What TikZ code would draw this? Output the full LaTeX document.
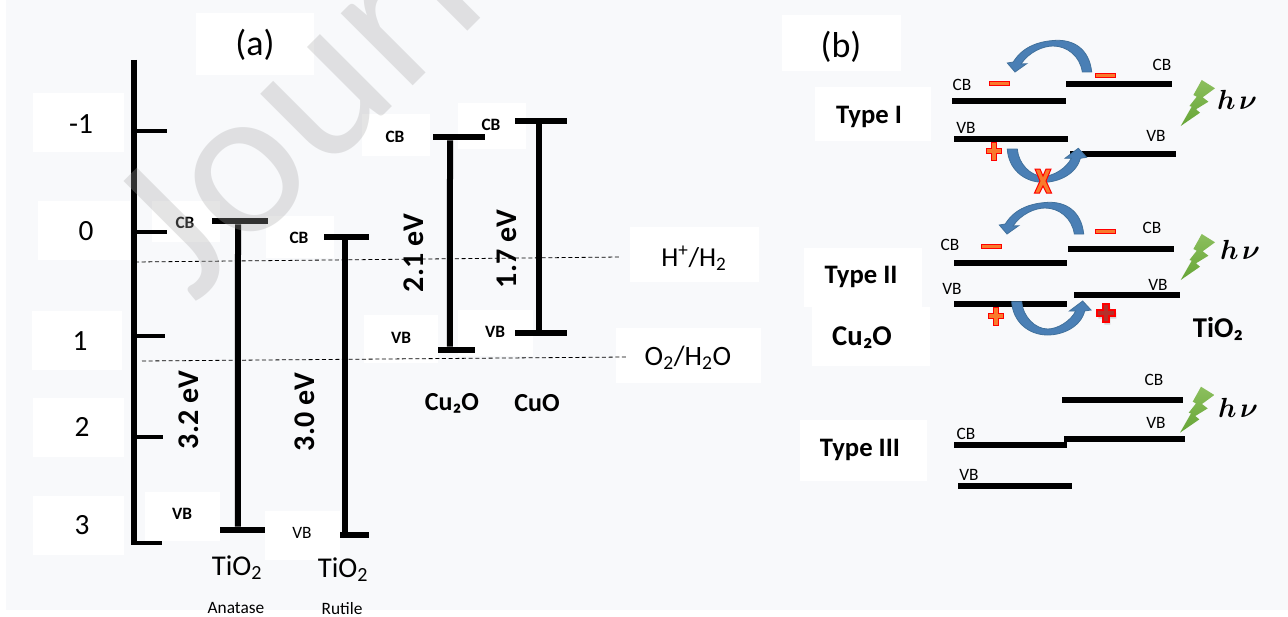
\documentclass[tikz,border=0pt]{standalone}
\usepackage{amsmath, amssymb}
\usepackage{fontspec}
\setmainfont{Carlito}
\usetikzlibrary{positioning, calc, shadows}
\definecolor{PageBg}{HTML}{F8F9FB}
\definecolor{Swoop}{HTML}{4A7FB5}
\definecolor{SwoopEdge}{HTML}{41719C}
\definecolor{BoltTop}{HTML}{8CBF5E}
\definecolor{BoltLow}{HTML}{66A536}
\definecolor{SignFill}{HTML}{F97A2C}
\definecolor{BigPlus}{HTML}{B5302A}
\newcommand{\px}{0.75pt}
\newcommand{\fs}[1]{\fontsize{#1}{#1}\selectfont}
\tikzset{
    levelbar/.style={rectangle, fill=black, inner sep=0pt, minimum height=6*\px},
    gapline/.style={line width=4.5pt, color=black},
    tickline/.style={line width=3pt, color=black},
    redoxline/.style={densely dashed, line width=0.6pt, color=black},
    numlabel/.style={font=\fs{22}},
    bandbold/.style={font=\fs{13}\bfseries},
    bandthin/.style={font=\fs{13}},
    gaplabel/.style={font=\fs{22.5}\bfseries, rotate=90},
    matlabel/.style={font=\fs{19.5}\bfseries},
    typelabel/.style={font=\fs{20}\bfseries},
    minussign/.style={rectangle, fill=SignFill, draw=red, line width=0.6pt, inner sep=0pt, minimum width=20*\px, minimum height=4*\px},
    plussign/.pic={\path[fill=SignFill, draw=red, line width=0.75pt] (-2.5,-9) -- (2.5,-9) -- (2.5,-2.5) -- (7.5,-2.5) -- (7.5,2.5) -- (2.5,2.5) -- (2.5,9) -- (-2.5,9) -- (-2.5,2.5) -- (-7.5,2.5) -- (-7.5,-2.5) -- (-2.5,-2.5) -- cycle;},
    upswoop/.pic={\path[fill=Swoop, draw=SwoopEdge, line width=0.6pt] (76.7,0) .. controls (74,-24) and (58,-32) .. (41.7,-31.7) .. controls (25,-31) and (8,-26) .. (-1.7,-10) -- (-7.7,-9) -- (0,0) -- (11.7,-8.3) -- (6,-8) .. controls (14,-20) and (28,-26) .. (38,-26) .. controls (52,-26) and (65,-16) .. (67.3,0) -- cycle;},
    downswoop/.pic={\path[fill=Swoop, draw=SwoopEdge, line width=0.6pt] (-71,0.7) .. controls (-70,20) and (-55,34) .. (-35,34) .. controls (-20,34) and (-2,26) .. (2,10) -- (8.3,9) -- (0,0) -- (-13.3,10) -- (-7,10) .. controls (-12,20) and (-25,28) .. (-35,28) .. controls (-48,28) and (-60,15) .. (-61,0.7) -- cycle;},
    lightbolt/.pic={\path[top color=BoltTop, bottom color=BoltLow] (21,-46) -- (34.3,-37.7) -- (22,-28.7) -- (27.7,-24.3) -- (15.3,-16.7) -- (19.3,-13.3) -- (0,0) -- (11,-19.3) -- (8.7,-20) -- (16,-29.3) -- (12.7,-31) -- cycle;},
}

\begin{document}
\begin{tikzpicture}[x=\px, y=-\px]
    \useasboundingbox (0,0) rectangle (1288,617);
    \fill[PageBg] (6,0) rectangle (1288,610);

    % Fondi bianchi delle etichette
    \foreach \xa/\ya/\xb/\yb in {33/93/124/152, 38/201/130/260, 32/311/122/370, 33/398/124/457, 33/496/124/555,
        196/13/314/75, 152/201/220/242, 266/216/334/258, 145/492/220/541, 265/511/340/560,
        362/114/430/156, 458/103/526/149, 364/315/438/363, 458/310/533/356,
        630/227/759/282, 616/328/761/383,
        782/15/901/71, 815/87/931/141, 804/248/922/307, 812/307/930/366, 800/420/927/481}
        \fill[white] (\xa,\ya) rectangle (\xb,\yb);

    % Asse
    \draw[gapline] (133.5,60) -- (133.5,545);
    \foreach \yt/\xe in {131/167, 232/167, 336/165, 437/163, 543/162}
        \draw[tickline] (131,\yt) -- (\xe,\yt);
    \node[numlabel] (lblm) at (81,124) {-1};
    \node[numlabel] (lblz) at (86,231) {0};
    \node[numlabel] (lblo) at (80,341) {1};
    \node[numlabel] (lblt) at (82,427) {2};
    \node[numlabel] (lbls) at (82,525) {3};
    \node[font=\fs{27}] (parta) at (255,45) {(a)};

    % Livelli redox
    \coordinate (hleft) at (135,262);
    \coordinate (hright) at (620,257);
    \coordinate (oleft) at (142,361);
    \coordinate (oright) at (627,357);
    \draw[redoxline] (hleft) -- (hright);
    \draw[redoxline] (oleft) -- (oright);
    \node[font=\fs{20.5}] (hlabel) at (694,258) {H\textsuperscript{+}/H\textsubscript{2}};
    \node[font=\fs{21}] (olabel) at (688,358) {O\textsubscript{2}/H\textsubscript{2}O};

    % Anatasio
    \node[levelbar, minimum width=56*\px] (anaCB) at (240,221) {};
    \node[levelbar, minimum width=45*\px] (anaVB) at (242.5,530) {};
    \draw[gapline] ([xshift=-1.5pt]anaCB.south) -- ([xshift=-3.4pt]anaVB.north);
    \node[bandbold] (anaCBt) at (185,223) {CB};
    \node[bandbold] (anaVBt) at (182,514) {VB};
    \node[gaplabel] (anaGap) at (189,410) {3.2 eV};
    \node[font=\fs{21.5}] (anaName) at (237,568) {TiO\textsubscript{2}};
    \node[font=\fs{13}] (anaSub) at (236,608) {Anatase};

    % Rutilo
    \node[levelbar, minimum width=45*\px] (rutCB) at (346.5,237) {};
    \node[levelbar, minimum width=29*\px] (rutVB) at (354.5,535) {};
    \draw[gapline] ([xshift=-1.1pt]rutCB.south) -- ([xshift=-7.1pt]rutVB.north);
    \node[bandbold] (rutCBt) at (299,238) {CB};
    \node[bandthin] (rutVBt) at (302,533) {VB};
    \node[gaplabel] (rutGap) at (305,412) {3.0 eV};
    \node[font=\fs{21.5}] (rutName) at (343,570) {TiO\textsubscript{2}};
    \node[font=\fs{13}] (rutSub) at (342,609) {Rutile};

    % Cu2O e CuO
    \node[levelbar, minimum width=52*\px] (cuaCB) at (459,137) {};
    \node[levelbar, minimum width=37*\px] (cuaVB) at (456.5,350) {};
    \draw[gapline] ([xshift=-6.75pt]cuaCB.south) -- ([xshift=-4.9pt]cuaVB.north);
    \node[bandbold] (cuaCBt) at (395,137) {CB};
    \node[bandbold] (cuaVBt) at (401,338) {VB};
    \node[gaplabel] (cuaGap) at (414,253) {2.1 eV};
    \node[matlabel] (cuaName) at (452,403) {Cu₂O};
    \node[levelbar, minimum width=52*\px] (cubCB) at (541,121) {};
    \node[levelbar, minimum width=52*\px] (cubVB) at (541,333) {};
    \draw[gapline] ([xshift=-1.5pt]cubCB.south) -- ([xshift=-1.5pt]cubVB.north);
    \node[bandbold] (cubCBt) at (491,125) {CB};
    \node[bandbold] (cubVBt) at (495,332) {VB};
    \node[gaplabel] (cubGap) at (507,249) {1.7 eV};
    \node[matlabel] (cubName) at (537,403) {CuO};

    % (b) Tipo I
    \node[font=\fs{27}] (partb) at (841,47) {(b)};
    \node[typelabel] (typeone) at (869,117) {Type I};
    \node[levelbar, minimum width=114*\px] (oneLC) at (1009,101) {};
    \node[levelbar, minimum width=106*\px] (oneRC) at (1119,84) {};
    \node[levelbar, minimum width=114*\px] (oneLV) at (1011,139) {};
    \node[levelbar, minimum width=106*\px] (oneRV) at (1123,154) {};
    \node[bandthin] (oneLCt) at (962,85) {CB};
    \node[bandthin] (oneRCt) at (1162,65) {CB};
    \node[bandthin] (oneLVt) at (966,128) {VB};
    \node[bandthin] (oneRVt) at (1156,136) {VB};
    \node[minussign] (oneMl) at (999,83) {};
    \node[minussign] (oneMr) at (1105,75) {};
    \pic at (994,151) {plussign};
    \pic at (1015,72) {upswoop};
    \pic at (1078.3,148.3) {downswoop};
    \path[fill=SignFill, draw=red, line width=0.75pt] (1035,169) -- (1040,169) -- (1043,176) -- (1046,169) -- (1051,169) -- (1046,181) -- (1051.5,193) -- (1046.5,193) -- (1043,186) -- (1039.5,193) -- (1034.5,193) -- (1040,181) -- cycle;
    \pic at (1180.7,126) {lightbolt};
    \node[font=\fs{20.74}] (onehv) at (1237,100) {$\boldsymbol{h\mkern2mu\nu}$};

    % Tipo II
    \node[typelabel] (typetwo) at (861,277) {Type II};
    \node[font=\fs{21.5}\bfseries] (twoCu) at (862,338) {Cu₂O};
    \node[levelbar, minimum width=113*\px] (twoLC) at (1010.5,263) {};
    \node[levelbar, minimum width=106*\px] (twoRC) at (1121,249) {};
    \node[levelbar, minimum width=113*\px] (twoLV) at (1010.5,304) {};
    \node[levelbar, minimum width=106*\px] (twoRV) at (1127,295) {};
    \node[bandthin] (twoLCt) at (950,245) {CB};
    \node[bandthin] (twoRCt) at (1152,228) {CB};
    \node[bandthin] (twoLVt) at (952,289) {VB};
    \node[bandthin] (twoRVt) at (1158,285) {VB};
    \node[minussign] (twoMl) at (991,246) {};
    \node[minussign] (twoMr) at (1105,231) {};
    \pic at (996,316) {plussign};
    \pic at (1007,234) {upswoop};
    \pic at (1082.7,301) {downswoop};
    \path[fill=BigPlus, draw=red, line width=0.9pt, drop shadow={shadow xshift=1pt, shadow yshift=-2pt, opacity=0.3}] (1103,304) -- (1109,304) -- (1109,310) -- (1115,310) -- (1115,316) -- (1109,316) -- (1109,322) -- (1103,322) -- (1103,316) -- (1097,316) -- (1097,310) -- (1103,310) -- cycle;
    \pic at (1180.7,280) {lightbolt};
    \node[font=\fs{20.74}] (twohv) at (1240,250) {$\boldsymbol{h\mkern2mu\nu}$};
    \node[font=\fs{21.5}\bfseries] (twoTi) at (1218,329) {TiO₂};

    % Tipo III
    \node[typelabel] (typethree) at (860,450) {Type III};
    \node[levelbar, minimum width=121*\px] (triRC) at (1122.5,400) {};
    \node[levelbar, minimum width=121*\px] (triRV) at (1124.5,439) {};
    \node[levelbar, minimum width=113*\px] (triLC) at (1010.5,445) {};
    \node[levelbar, minimum width=114*\px] (triLV) at (1015,486) {};
    \node[bandthin] (triRCt) at (1154,380) {CB};
    \node[bandthin] (triRVt) at (1156,423) {VB};
    \node[bandthin] (triLCt) at (966,434) {CB};
    \node[bandthin] (triLVt) at (969,475) {VB};
    \pic at (1180,432.7) {lightbolt};
    \node[font=\fs{20.74}] (trihv) at (1238,408) {$\boldsymbol{h\mkern2mu\nu}$};

    % Filigrana
    \begin{scope}
        \clip (0,0) rectangle (1288,617);
        \node[anchor=base west, rotate=45, inner sep=0pt, text=black!35, opacity=0.3, font={\fontspec[LetterSpace=0.6]{Carlito}\fs{160}}] (wmark) at (194,305) {Journal};
    \end{scope}
\end{tikzpicture}
\end{document}
